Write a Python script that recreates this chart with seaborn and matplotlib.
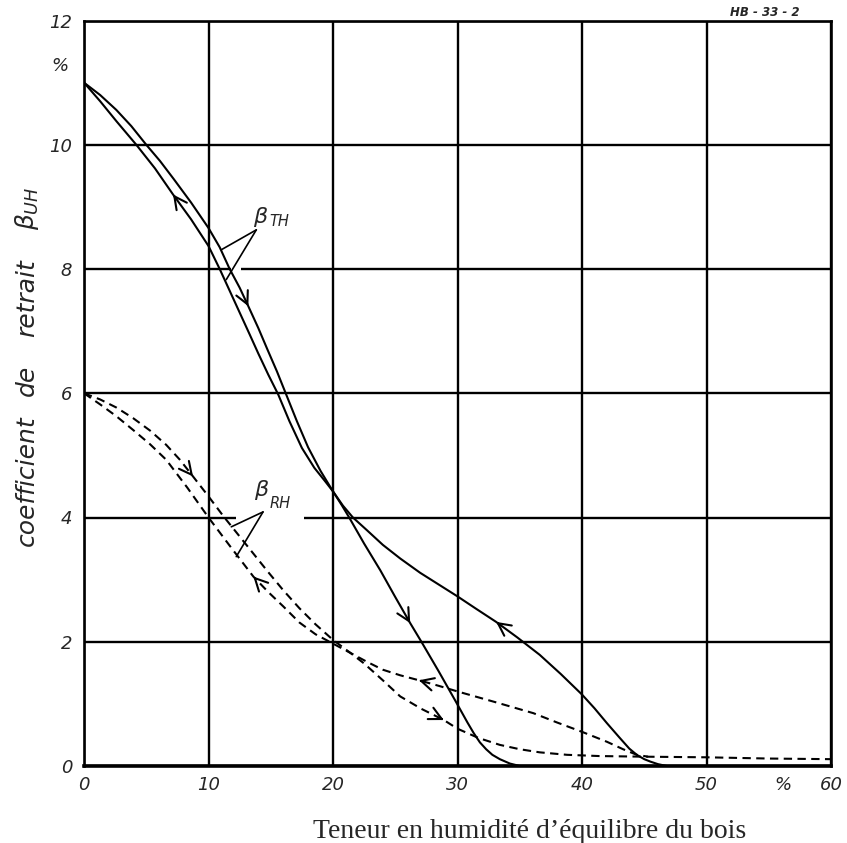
import numpy as np
import pandas as pd
import matplotlib
matplotlib.use("Agg")
import matplotlib.pyplot as plt
import seaborn as sns

# ---------------- data ----------------
# beta_TH, branch with down-pointing arrows (ends near 35 %)
th_down_x = [0, 1.3, 2.6, 3.8, 5.0, 6.1, 7.2, 8.6, 10.0, 10.9, 11.7, 12.5, 13.2,
             14.0, 14.7, 15.5, 16.2, 17.1, 18.0, 19.0, 20.0, 20.7, 21.3, 22.5,
             23.8, 25.0, 26.2, 27.1, 28.5, 29.8, 30.3, 30.8, 31.3, 31.8, 32.3,
             32.8, 33.4, 34.2, 35.0]
th_down_y = [11.0, 10.8, 10.56, 10.3, 10.0, 9.74, 9.45, 9.07, 8.66, 8.35, 8.0,
             7.7, 7.4, 7.05, 6.72, 6.35, 6.0, 5.55, 5.13, 4.75, 4.42, 4.2, 4.0,
             3.58, 3.15, 2.72, 2.3, 2.0, 1.52, 1.06, 0.88, 0.7, 0.53, 0.38, 0.27,
             0.18, 0.11, 0.04, 0.0]
# beta_TH, branch with up-pointing arrows (ends near 47 %)
th_up_x = [0, 1.3, 2.6, 4.2, 5.7, 7.15, 8.6, 10.0, 10.9, 11.7, 12.5, 13.3, 14.0,
           14.8, 15.6, 16.5, 17.5, 18.5, 19.3, 20.0, 20.8, 21.6, 22.7, 24.0,
           25.4, 27.0, 28.5, 30.0, 31.5, 33.1, 34.8, 36.6, 38.3, 40.0, 41.0,
           42.0, 43.0, 43.8, 44.4, 45.0, 45.5, 46.1, 46.8]
th_up_y = [11.0, 10.7, 10.38, 10.0, 9.62, 9.2, 8.8, 8.37, 8.0, 7.65, 7.3, 6.95,
           6.64, 6.3, 5.98, 5.55, 5.12, 4.8, 4.6, 4.42, 4.19, 4.0, 3.8, 3.56,
           3.34, 3.11, 2.92, 2.73, 2.53, 2.32, 2.07, 1.79, 1.48, 1.15, 0.93,
           0.69, 0.46, 0.28, 0.18, 0.11, 0.07, 0.03, 0.0]
# beta_RH, branch with down-pointing arrows (runs out to 60 %)
rh_down_x = [0, 1.3, 2.6, 3.94, 5.3, 6.6, 7.7, 8.76, 10.0, 11.2, 12.4, 13.6,
             14.8, 16.0, 17.3, 18.6, 20.0, 21.4, 22.5, 24.0, 25.4, 27.1, 28.9,
             30.0, 31.7, 33.4, 35.0, 36.6, 38.8, 41.4, 45.0, 50.0, 55.0, 60.0]
rh_down_y = [6.0, 5.9, 5.77, 5.6, 5.4, 5.17, 4.93, 4.66, 4.34, 4.02, 3.72, 3.42,
             3.12, 2.83, 2.54, 2.28, 2.03, 1.82, 1.65, 1.38, 1.12, 0.92, 0.74,
             0.6, 0.45, 0.34, 0.27, 0.22, 0.18, 0.16, 0.15, 0.14, 0.12, 0.11]
# beta_RH, branch with up-pointing arrows (joins near 45 %)
rh_up_x = [0, 1.3, 2.6, 3.94, 5.3, 6.6, 8.3, 10.0, 11.8, 13.6, 14.8, 16.0, 17.3,
           18.6, 20.0, 21.4, 22.7, 24.0, 25.4, 26.9, 28.5, 30.0, 33.0, 36.1,
           38.0, 40.0, 42.0, 43.3, 44.4, 45.3]
rh_up_y = [6.0, 5.82, 5.63, 5.41, 5.18, 4.93, 4.48, 4.0, 3.52, 3.05, 2.8, 2.57,
           2.31, 2.12, 1.97, 1.82, 1.68, 1.55, 1.46, 1.38, 1.29, 1.2, 1.03, 0.85,
           0.7, 0.55, 0.39, 0.27, 0.18, 0.15]

# arrow locations (x values along each branch)
th_down_arrows = [13.2, 26.2]
th_up_arrows = [7.15, 33.1]
rh_down_arrows = [8.76, 28.9]
rh_up_arrows = [13.6, 26.9]

x_ticks = [0, 10, 20, 30, 40, 50, 60]
x_tick_labels = ["0", "10", "20", "30", "40", "50", "60"]
y_ticks = [0, 2, 4, 6, 8, 10, 12]
y_tick_labels = ["0", "2", "4", "6", "8", "10", "12"]

# y-axis title words (widely spaced lettering)
y_title_words = ["coefficient", "de", "retrait", r"$\beta_{UH}$"]
y_title_word_centers_px = [481, 380, 298, 208]

# label leaders: apex -> point on each branch
th_leader_apex = (13.84, 8.63)
th_leader_ends = [(11.03, 8.31), (11.43, 7.83)]
rh_leader_apex = (14.38, 4.09)
rh_leader_ends = [(11.83, 3.85), (12.23, 3.37)]

# --------------- figure ---------------
sns.set_style("white")
plt.rcParams["font.family"] = ["DejaVu Sans"]
plt.rcParams["mathtext.fontset"] = "dejavusans"

W, H = 847, 843
fig = plt.figure(figsize=(W / 100, H / 100), dpi=100)
ax = fig.add_axes([84 / W, 1 - 766 / H, (831 - 84) / W, (766 - 20.5) / H])

ax.set_xlim(0, 60)
ax.set_ylim(0, 12)
ax.set_xticks(x_ticks)
ax.set_xticklabels(x_tick_labels, fontsize=13, fontstyle="italic")
ax.set_yticks(y_ticks)
ax.set_yticklabels(y_tick_labels, fontsize=13, fontstyle="italic")
ax.tick_params(axis="x", length=0, pad=7.5)
ax.tick_params(axis="y", length=0, pad=8.5)
ax.grid(True, color="black", lw=1.7)
ax.set_axisbelow(True)
for s in ax.spines.values():
    s.set_color("black")
    s.set_linewidth(1.9)
ax.spines["bottom"].set_linewidth(2.6)

# gaps in grid lines around labels
for gy, gx0, gx1 in [(4, 12.2, 17.7), (8, 11.8, 12.6)]:
    ax.plot([gx0, gx1], [gy, gy], color="white", lw=3, zorder=1.5,
            solid_capstyle="butt")

solid = dict(color="black", lw=1.5, zorder=3)
dashed = dict(color="black", lw=1.5, zorder=3, linestyle=(0, (4, 2.6)))

curves = [
    (th_down_x, th_down_y, solid, th_down_arrows, +1),
    (th_up_x, th_up_y, solid, th_up_arrows, -1),
    (rh_down_x, rh_down_y, dashed, rh_down_arrows, +1),
    (rh_up_x, rh_up_y, dashed, rh_up_arrows, -1),
]
for xs, ys, kw, arrows, direction in curves:
    df = pd.DataFrame({"x": xs, "y": ys})
    sns.lineplot(data=df, x="x", y="y", ax=ax, sort=False, estimator=None, **kw)
    for xa in arrows:
        ya = np.interp(xa, xs, ys)
        x0 = xa - 0.2 * direction
        y0 = np.interp(x0, xs, ys)
        ax.annotate("", xy=(xa, ya), xytext=(x0, y0), zorder=4,
                    arrowprops=dict(arrowstyle="->,head_length=0.75,head_width=0.38",
                                    color="black", lw=1.5, shrinkA=0, shrinkB=0,
                                    mutation_scale=12))

ax.set_xlabel("")
ax.set_ylabel("")

# leaders
for apex, ends in [(th_leader_apex, th_leader_ends), (rh_leader_apex, rh_leader_ends)]:
    for e in ends:
        ax.plot([apex[0], e[0]], [apex[1], e[1]], color="black", lw=1.2, zorder=3)

# curve labels
ax.text(14.11, 8.83, "β", fontsize=16, fontstyle="italic", ha="center", va="center", zorder=5)
ax.text(14.92, 8.76, "TH", fontsize=10.5, fontstyle="italic", ha="left", va="center", zorder=5)
ax.text(14.24, 4.44, "β", fontsize=16, fontstyle="italic", ha="center", va="center", zorder=5)
ax.text(14.92, 4.23, "RH", fontsize=10.5, fontstyle="italic", ha="left", va="center", zorder=5)

# percent signs on the axes
ax.text(56.1, -10.4 / 745.5, "%", fontsize=13, fontstyle="italic", ha="center", va="top",
        transform=ax.get_xaxis_transform(), clip_on=False)
ax.text((60 - 84) / (831 - 84), 11.27, "%", fontsize=13, fontstyle="italic",
        ha="center", va="center", transform=ax.get_yaxis_transform(), clip_on=False)

# y axis title, word by word
for word, cy in zip(y_title_words, y_title_word_centers_px):
    fig.text(27 / W, 1 - cy / H, word, rotation=90, fontsize=18,
             fontstyle="italic", ha="center", va="center")

# drawing number
fig.text(765 / W, 1 - 12.5 / H, "HB - 33 - 2", fontsize=8.5, fontstyle="italic",
         fontweight="bold", ha="center", va="center")

# x axis title
fig.text(530 / W, 1 - 832 / H, "Teneur en humidité d’équilibre du bois",
         fontsize=20, family=["Liberation Serif", "DejaVu Serif"], ha="center", va="center")

fig.savefig("out.png", dpi=100, facecolor="white")
